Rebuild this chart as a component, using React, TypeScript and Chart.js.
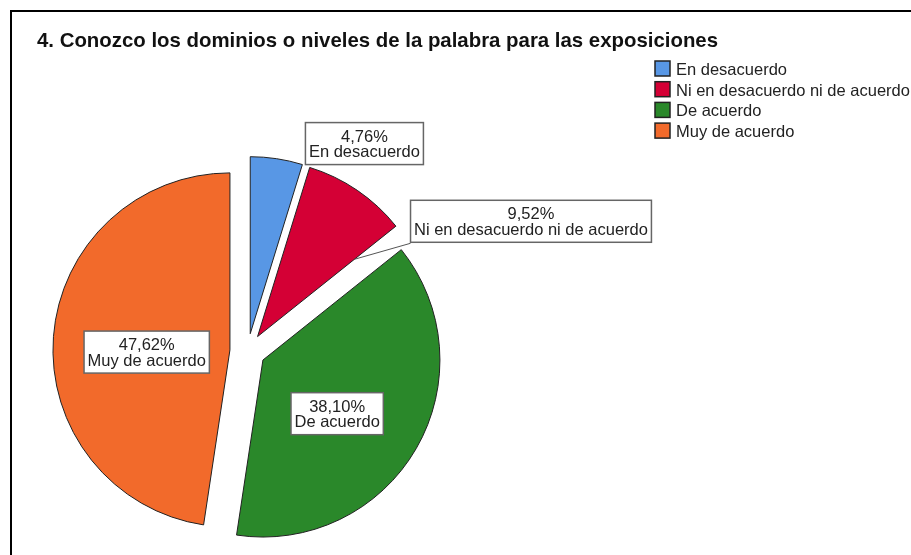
import React, { useEffect, useRef } from 'react';
import { Chart, registerables } from 'chart.js';

Chart.register(...registerables);

const TITLE = '4. Conozco los dominios o niveles de la palabra para las exposiciones';
const categories = ['En desacuerdo', 'Ni en desacuerdo ni de acuerdo', 'De acuerdo', 'Muy de acuerdo'];
const percentages = [4.76, 9.52, 38.10, 47.62];
const colors = ['#5897E5', '#D40035', '#2A882A', '#F26A2B'];

// Label-box centres relative to the pie centre, in units of the pie radius (layout only)
const labelAnchors: [number, number][] = [
  [0.66, -1.173],
  [1.601, -0.734],
  [0.506, 0.353],
  [-0.57, 0.005],
];
// Leader line: fraction of the radius along the slice's end edge (null = none)
const leaderAt: (number | null)[] = [null, 0.7, null, null];
const EXPLODE = 0.1;
const FONT = '"Liberation Sans", Arial, sans-serif';
const W = 911;
const H = 555;

const fmt = (v: number) => v.toFixed(2).replace('.', ',') + '%';

const spssPlugin = {
  id: 'spssPie',
  beforeDraw(chart: any) {
    const ctx: CanvasRenderingContext2D = chart.ctx;
    ctx.save();
    ctx.fillStyle = '#ffffff';
    ctx.fillRect(0, 0, chart.width, chart.height);
    ctx.fillStyle = '#000000';
    ctx.fillRect(10, 10, chart.width - 10, 2);
    ctx.fillRect(10, 10, 2, chart.height - 10);
    ctx.font = `bold 20.4px ${FONT}`;
    ctx.fillStyle = '#111111';
    ctx.textBaseline = 'alphabetic';
    ctx.textAlign = 'left';
    ctx.fillText(TITLE, 37, 46.5);
    ctx.font = `16.5px ${FONT}`;
    categories.forEach((c, i) => {
      const cy = 68.5 + i * 20.7;
      ctx.fillStyle = colors[i];
      ctx.fillRect(655, cy - 7.5, 15, 15);
      ctx.strokeStyle = '#222222';
      ctx.lineWidth = 1.5;
      ctx.strokeRect(655, cy - 7.5, 15, 15);
      ctx.fillStyle = '#222222';
      ctx.fillText(c, 676, cy + 6.5);
    });
    ctx.restore();
  },
  beforeDatasetDraw(chart: any, args: any) {
    const meta = chart.getDatasetMeta(args.index);
    const ctx: CanvasRenderingContext2D = chart.ctx;
    meta.data.forEach((arc: any) => {
      const mid = (arc.startAngle + arc.endAngle) / 2;
      const d = arc.outerRadius * EXPLODE;
      ctx.save();
      ctx.translate(Math.cos(mid) * d, Math.sin(mid) * d);
      arc.draw(ctx);
      ctx.restore();
    });
    return false;
  },
  afterDatasetsDraw(chart: any) {
    const meta = chart.getDatasetMeta(0);
    const ctx: CanvasRenderingContext2D = chart.ctx;
    ctx.save();
    ctx.font = `16.5px ${FONT}`;
    meta.data.forEach((arc: any, i: number) => {
      const r = arc.outerRadius;
      const cx = arc.x + labelAnchors[i][0] * r;
      const cy = arc.y + labelAnchors[i][1] * r;
      const l1 = fmt(percentages[i]);
      const l2 = categories[i];
      const tw = Math.max(ctx.measureText(l1).width, ctx.measureText(l2).width);
      const bw = tw + 7;
      const bh = 42;
      const left = cx - bw / 2;
      const top = cy - bh / 2;
      const la = leaderAt[i];
      if (la !== null) {
        const mid = (arc.startAngle + arc.endAngle) / 2;
        const d = r * EXPLODE;
        const ox = arc.x + Math.cos(mid) * d;
        const oy = arc.y + Math.sin(mid) * d;
        const px = ox + Math.cos(arc.endAngle) * r * la;
        const py = oy + Math.sin(arc.endAngle) * r * la;
        ctx.strokeStyle = '#555555';
        ctx.lineWidth = 1;
        ctx.beginPath();
        ctx.moveTo(px, py);
        ctx.lineTo(left, top + bh + 1);
        ctx.stroke();
      }
      ctx.fillStyle = '#ffffff';
      ctx.fillRect(left, top, bw, bh);
      ctx.strokeStyle = '#666666';
      ctx.lineWidth = 1.5;
      ctx.strokeRect(left, top, bw, bh);
      ctx.fillStyle = '#222222';
      ctx.textAlign = 'center';
      ctx.textBaseline = 'alphabetic';
      ctx.fillText(l1, cx, cy - 2);
      ctx.fillText(l2, cx, cy + 13.5);
    });
    ctx.restore();
  },
};

export default function App() {
  const canvasRef = useRef<HTMLCanvasElement | null>(null);
  useEffect(() => {
    if (!canvasRef.current) return;
    const chart = new Chart(canvasRef.current, {
      type: 'pie',
      data: {
        labels: categories,
        datasets: [
          {
            data: percentages,
            backgroundColor: colors,
            borderColor: '#222222',
            borderWidth: 1,
            radius: 177,
            offset: 0,
          } as any,
        ],
      },
      options: {
        responsive: false,
        animation: false,
        events: [],
        layout: { padding: { left: 67.6, right: 483.4, top: 171.2, bottom: 23.8 } },
        plugins: {
          legend: { display: false },
          title: { display: false },
          tooltip: { enabled: false },
        },
      },
      plugins: [spssPlugin],
    });
    return () => chart.destroy();
  }, []);
  return (
    <div style={{ position: 'absolute', left: 0, top: 0, width: W, height: H, background: '#fff' }}>
      <canvas ref={canvasRef} width={W} height={H} style={{ display: 'block', width: W, height: H }} />
    </div>
  );
}
